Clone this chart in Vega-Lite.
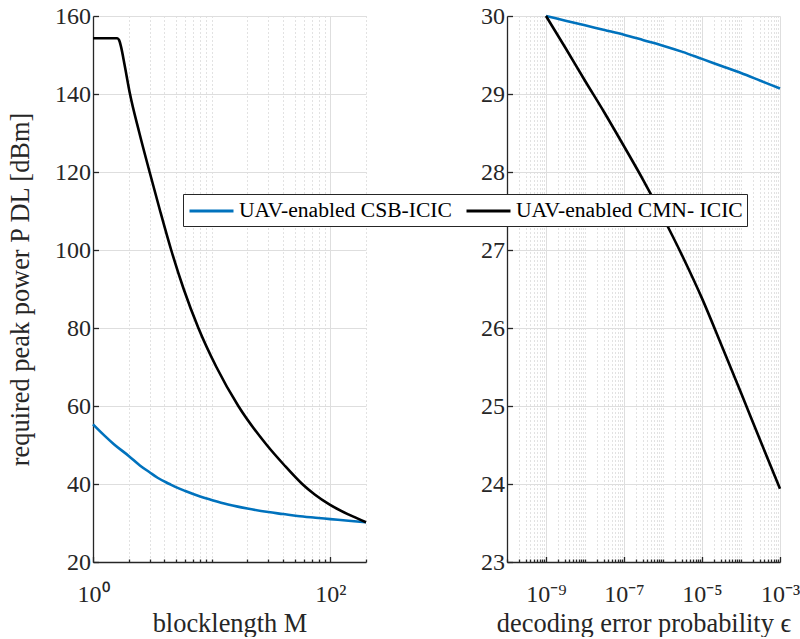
{
  "$schema": "https://vega.github.io/schema/vega-lite/v6.json",
  "padding": {"left": 7, "top": 4, "right": 0, "bottom": 0},
  "background": "white",
  "spacing": 141,
  "bounds": "flush",
  "config": {
    "font": "Liberation Serif",
    "view": {"stroke": null},
    "axis": {
      "labelFont": "Liberation Serif", "labelFontSize": 24, "labelColor": "#262626",
      "titleFont": "Liberation Serif", "titleFontSize": 26.4, "titleFontWeight": "normal", "titleColor": "#262626",
      "domainColor": "#262626", "domainWidth": 1.3, "tickColor": "#262626", "tickWidth": 1.3,
      "gridColor": "#dedede", "gridWidth": 1, "gridOpacity": 1,
      "labelOverlap": false, "labelFlush": false, "labelBound": false
    },
    "legend": {
      "orient": "none", "legendX": 90, "legendY": 178, "direction": "horizontal",
      "fillColor": "white", "strokeColor": "#262626", "strokeWidth": 1, "padding": 4,
      "labelFont": "Liberation Serif", "labelFontSize": 21.6, "labelColor": "#000000", "labelLimit": 400,
      "symbolType": "M-2,0H2", "symbolStrokeWidth": 3, "symbolSize": 484, "symbolOffset": 12,
      "columnPadding": 8, "labelOffset": 15,
      "title": null
    }
  },
  "datasets": {
    "left": [
      {"series": "UAV-enabled CSB-ICIC", "M": 1, "P": 55.3},
      {"series": "UAV-enabled CSB-ICIC", "M": 1.25, "P": 52.4},
      {"series": "UAV-enabled CSB-ICIC", "M": 1.5, "P": 50.2},
      {"series": "UAV-enabled CSB-ICIC", "M": 2, "P": 47.2},
      {"series": "UAV-enabled CSB-ICIC", "M": 2.5, "P": 44.7},
      {"series": "UAV-enabled CSB-ICIC", "M": 3, "P": 43.0},
      {"series": "UAV-enabled CSB-ICIC", "M": 3.5, "P": 41.6},
      {"series": "UAV-enabled CSB-ICIC", "M": 4.42, "P": 40.0},
      {"series": "UAV-enabled CSB-ICIC", "M": 5, "P": 39.2},
      {"series": "UAV-enabled CSB-ICIC", "M": 6, "P": 38.2},
      {"series": "UAV-enabled CSB-ICIC", "M": 8, "P": 36.8},
      {"series": "UAV-enabled CSB-ICIC", "M": 10, "P": 35.9},
      {"series": "UAV-enabled CSB-ICIC", "M": 12, "P": 35.2},
      {"series": "UAV-enabled CSB-ICIC", "M": 16.6, "P": 34.2},
      {"series": "UAV-enabled CSB-ICIC", "M": 20, "P": 33.7},
      {"series": "UAV-enabled CSB-ICIC", "M": 30, "P": 32.8},
      {"series": "UAV-enabled CSB-ICIC", "M": 40, "P": 32.3},
      {"series": "UAV-enabled CSB-ICIC", "M": 53, "P": 31.8},
      {"series": "UAV-enabled CSB-ICIC", "M": 75, "P": 31.35},
      {"series": "UAV-enabled CSB-ICIC", "M": 100, "P": 31.0},
      {"series": "UAV-enabled CSB-ICIC", "M": 150, "P": 30.5},
      {"series": "UAV-enabled CSB-ICIC", "M": 200, "P": 30.2},
      {"series": "UAV-enabled CMN- ICIC", "M": 1, "P": 154.3},
      {"series": "UAV-enabled CMN- ICIC", "M": 1.6, "P": 154.3},
      {"series": "UAV-enabled CMN- ICIC", "M": 1.66, "P": 153.8},
      {"series": "UAV-enabled CMN- ICIC", "M": 1.72, "P": 152.2},
      {"series": "UAV-enabled CMN- ICIC", "M": 1.85, "P": 147.3},
      {"series": "UAV-enabled CMN- ICIC", "M": 2.04, "P": 140.3},
      {"series": "UAV-enabled CMN- ICIC", "M": 2.46, "P": 130},
      {"series": "UAV-enabled CMN- ICIC", "M": 3.0, "P": 120},
      {"series": "UAV-enabled CMN- ICIC", "M": 3.68, "P": 110},
      {"series": "UAV-enabled CMN- ICIC", "M": 4.56, "P": 100},
      {"series": "UAV-enabled CMN- ICIC", "M": 5.81, "P": 90},
      {"series": "UAV-enabled CMN- ICIC", "M": 7.73, "P": 80},
      {"series": "UAV-enabled CMN- ICIC", "M": 10.96, "P": 70},
      {"series": "UAV-enabled CMN- ICIC", "M": 16.78, "P": 60},
      {"series": "UAV-enabled CMN- ICIC", "M": 29.15, "P": 50},
      {"series": "UAV-enabled CMN- ICIC", "M": 40.5, "P": 45},
      {"series": "UAV-enabled CMN- ICIC", "M": 58.0, "P": 40},
      {"series": "UAV-enabled CMN- ICIC", "M": 73.9, "P": 37.3},
      {"series": "UAV-enabled CMN- ICIC", "M": 98.9, "P": 34.7},
      {"series": "UAV-enabled CMN- ICIC", "M": 142, "P": 32.2},
      {"series": "UAV-enabled CMN- ICIC", "M": 200, "P": 30.2}
    ],
    "right": [
      {"series": "UAV-enabled CSB-ICIC", "eps": 1e-9, "P": 30.0},
      {"series": "UAV-enabled CSB-ICIC", "eps": 3.162e-9, "P": 29.94},
      {"series": "UAV-enabled CSB-ICIC", "eps": 1e-8, "P": 29.88},
      {"series": "UAV-enabled CSB-ICIC", "eps": 3.162e-8, "P": 29.82},
      {"series": "UAV-enabled CSB-ICIC", "eps": 1e-7, "P": 29.76},
      {"series": "UAV-enabled CSB-ICIC", "eps": 3.162e-7, "P": 29.69},
      {"series": "UAV-enabled CSB-ICIC", "eps": 1e-6, "P": 29.62},
      {"series": "UAV-enabled CSB-ICIC", "eps": 3.162e-6, "P": 29.54},
      {"series": "UAV-enabled CSB-ICIC", "eps": 1e-5, "P": 29.45},
      {"series": "UAV-enabled CSB-ICIC", "eps": 3.162e-5, "P": 29.36},
      {"series": "UAV-enabled CSB-ICIC", "eps": 1e-4, "P": 29.27},
      {"series": "UAV-enabled CSB-ICIC", "eps": 3.162e-4, "P": 29.17},
      {"series": "UAV-enabled CSB-ICIC", "eps": 1e-3, "P": 29.07},
      {"series": "UAV-enabled CMN- ICIC", "eps": 1e-9, "P": 30.0},
      {"series": "UAV-enabled CMN- ICIC", "eps": 3.162e-9, "P": 29.59},
      {"series": "UAV-enabled CMN- ICIC", "eps": 1e-8, "P": 29.17},
      {"series": "UAV-enabled CMN- ICIC", "eps": 3.162e-8, "P": 28.76},
      {"series": "UAV-enabled CMN- ICIC", "eps": 1e-7, "P": 28.33},
      {"series": "UAV-enabled CMN- ICIC", "eps": 3.162e-7, "P": 27.89},
      {"series": "UAV-enabled CMN- ICIC", "eps": 1e-6, "P": 27.42},
      {"series": "UAV-enabled CMN- ICIC", "eps": 3.162e-6, "P": 26.92},
      {"series": "UAV-enabled CMN- ICIC", "eps": 1e-5, "P": 26.38},
      {"series": "UAV-enabled CMN- ICIC", "eps": 3.162e-5, "P": 25.78},
      {"series": "UAV-enabled CMN- ICIC", "eps": 1e-4, "P": 25.17},
      {"series": "UAV-enabled CMN- ICIC", "eps": 3.162e-4, "P": 24.55},
      {"series": "UAV-enabled CMN- ICIC", "eps": 1e-3, "P": 23.94}
    ]
  },
  "hconcat": [
    {
      "width": 273, "height": 546,
      "data": {"name": "left"},
      "mark": {"type": "line", "strokeWidth": 2.6, "interpolate": "monotone"},
      "encoding": {
        "x": {
          "field": "M", "type": "quantitative",
          "scale": {"type": "log", "domain": [1, 200], "nice": false},
          "axis": {
            "title": "blocklength M",
            "values": [1, 2, 3, 4, 5, 6, 7, 8, 9, 10, 20, 30, 40, 50, 60, 70, 80, 90, 100, 200],
            "labelExpr": "datum.value == 1 ? '10⁰' : datum.value == 100 ? '10²' : ''",
            "grid": true,
            "gridDash": {"condition": {"test": "datum.value == 1 || datum.value == 100", "value": []}, "value": [1, 3]},
            "gridColor": {"condition": {"test": "datum.value == 1 || datum.value == 100", "value": "#dedede"}, "value": "#c4c4c4"},
            "tickSize": {"condition": {"test": "datum.value == 1 || datum.value == 100", "value": -5.5}, "value": -3},
            "labelPadding": 26, "titlePadding": 1
          }
        },
        "y": {
          "field": "P", "type": "quantitative",
          "scale": {"domain": [20, 160], "nice": false, "zero": false},
          "axis": {
            "title": "required peak power P DL [dBm]",
            "values": [20, 40, 60, 80, 100, 120, 140, 160],
            "tickSize": -5.5, "labelPadding": 8, "titlePadding": 20
          }
        },
        "color": {
          "field": "series", "type": "nominal",
          "scale": {"domain": ["UAV-enabled CSB-ICIC", "UAV-enabled CMN- ICIC"], "range": ["#0072BD", "#000000"]}
        }
      }
    },
    {
      "width": 273, "height": 546,
      "data": {"name": "right"},
      "mark": {"type": "line", "strokeWidth": 2.6, "interpolate": "monotone"},
      "encoding": {
        "x": {
          "field": "eps", "type": "quantitative",
          "scale": {"type": "log", "domain": [1e-10, 1e-3], "nice": false},
          "axis": {
            "title": "decoding error probability ϵ",
            "values": [1e-10, 2e-10, 3e-10, 4e-10, 5e-10, 6e-10, 7e-10, 8e-10, 9e-10,
                       1e-9, 2e-9, 3e-9, 4e-9, 5e-9, 6e-9, 7e-9, 8e-9, 9e-9,
                       1e-8, 2e-8, 3e-8, 4e-8, 5e-8, 6e-8, 7e-8, 8e-8, 9e-8,
                       1e-7, 2e-7, 3e-7, 4e-7, 5e-7, 6e-7, 7e-7, 8e-7, 9e-7,
                       1e-6, 2e-6, 3e-6, 4e-6, 5e-6, 6e-6, 7e-6, 8e-6, 9e-6,
                       1e-5, 2e-5, 3e-5, 4e-5, 5e-5, 6e-5, 7e-5, 8e-5, 9e-5,
                       1e-4, 2e-4, 3e-4, 4e-4, 5e-4, 6e-4, 7e-4, 8e-4, 9e-4, 1e-3],
            "labelExpr": "datum.value == 1e-9 ? '10⁻⁹' : datum.value == 1e-7 ? '10⁻⁷' : datum.value == 1e-5 ? '10⁻⁵' : datum.value == 1e-3 ? '10⁻³' : ''",
            "grid": true,
            "gridDash": {"condition": {"test": "datum.value == 1e-9 || datum.value == 1e-7 || datum.value == 1e-5 || datum.value == 1e-3", "value": []}, "value": [1, 3]},
            "gridColor": {"condition": {"test": "datum.value == 1e-9 || datum.value == 1e-7 || datum.value == 1e-5 || datum.value == 1e-3", "value": "#dedede"}, "value": "#c4c4c4"},
            "tickSize": {"condition": {"test": "datum.value == 1e-9 || datum.value == 1e-7 || datum.value == 1e-5 || datum.value == 1e-3", "value": -5.5}, "value": -3},
            "labelPadding": 26, "titlePadding": 1
          }
        },
        "y": {
          "field": "P", "type": "quantitative",
          "scale": {"domain": [23, 30], "nice": false, "zero": false},
          "axis": {
            "title": null,
            "values": [23, 24, 25, 26, 27, 28, 29, 30],
            "tickSize": -5.5, "labelPadding": 8
          }
        },
        "color": {
          "field": "series", "type": "nominal",
          "scale": {"domain": ["UAV-enabled CSB-ICIC", "UAV-enabled CMN- ICIC"], "range": ["#0072BD", "#000000"]}
        }
      }
    }
  ]
}
